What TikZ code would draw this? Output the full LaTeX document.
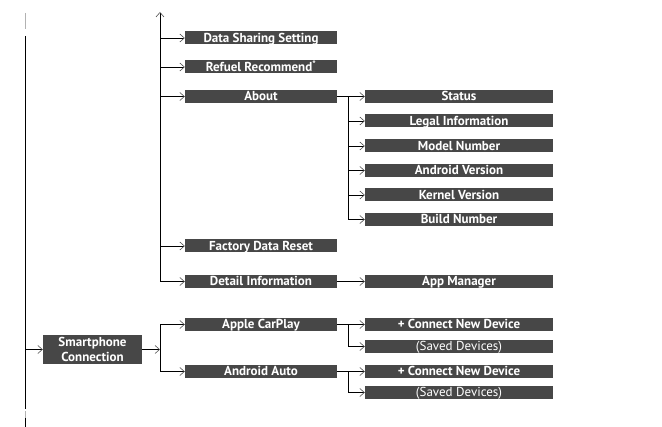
\documentclass[tikz,border=0pt]{standalone}
\usepackage{fontspec}
\setmainfont{PT Sans}
\usetikzlibrary{arrows.meta}
\definecolor{boxgray}{HTML}{474747}
\definecolor{tipgray}{HTML}{505050}

\begin{document}
\begin{tikzpicture}[x=1pt,y=-1pt,
  plain/.style={line width=0.9pt},
  link/.style={plain,-{Straight Barb[length=4.5pt,width=8pt,line width=0.6pt,color=tipgray]}},
  box/.style={fill=boxgray,text=white,inner sep=0pt,minimum height=13pt,
    font=\bfseries\fontsize{13}{15.5}\selectfont},
  menu/.style={box,minimum width=152pt,text height=11pt,text depth=2pt},
  item/.style={box,minimum width=188pt,text height=11pt,text depth=2pt}]
  \useasboundingbox (0,0) rectangle (662,427);

  % -=-=-=-=- LEFT LINE -=-=-=-=-
  \coordinate (lt) at (25,36);
  \coordinate (lb) at (25,409);
  \draw[plain,gray!60] (25,13) -- (25,29);
  \draw[plain] (lt) -- (lb);
  \draw[plain,gray!60] (25,411) -- (25,418);
  \draw[plain] (25,418) -- (25,427);

  % -=-=-=-=- FIRST LEVEL -=-=-=-=-
  \node[menu] (dss) at (261,38) {Data Sharing Setting};
  \node[menu] (refuel) at (261,67) {Refuel Recommend\textsuperscript{*}};
  \node[menu] (about) at (261,96.5) {About};
  \node[menu] (reset) at (261,246) {Factory Data Reset};
  \node[menu] (detail) at (261,281.5) {Detail Information};

  \node[box,minimum width=99pt,minimum height=29pt,align=center] (phone) at (92.5,349.5) {Smartphone\\Connection};
  \node[menu] (carplay) at (261,324.5) {Apple CarPlay};
  \node[menu] (auto) at (261,371.5) {Android Auto};

  % -=-=-=-=- SECOND LEVEL -=-=-=-=-
  \node[item] (status) at (459,96.5) {Status};
  \node[item] (legal) at (459,121) {Legal Information};
  \node[item] (model) at (459,146) {Model Number};
  \node[item] (android) at (459,170.5) {Android Version};
  \node[item] (kernel) at (459,195) {Kernel Version};
  \node[item] (build) at (459,219.5) {Build Number};
  \node[item] (appmgr) at (459,281.5) {App Manager};

  \node[item] (cpnew) at (459,324.5) {+ Connect New Device};
  \node[item,font=\fontsize{13}{15.5}\selectfont] (cpsaved) at (459,346.5) {(Saved Devices)};
  \node[item] (aanew) at (459,371.5) {+ Connect New Device};
  \node[item,font=\fontsize{13}{15.5}\selectfont] (aasaved) at (459,392.5) {(Saved Devices)};

  % -=-=-=-=- CONNECTORS -=-=-=-=-
  \coordinate (ttop) at (160,12);
  \coordinate (tbot) at (160,281.5);
  \draw[link] (tbot) -- (ttop);
  \foreach \n in {dss,refuel,about,reset,detail}
    \draw[link] (\n.west -| ttop) -- (\n.west);

  \coordinate (abus) at (348,96.5);
  \draw[link] (about.east) -- (status.west);
  \draw[plain] (abus) -- (build.west -| abus);
  \foreach \n in {legal,model,android,kernel,build}
    \draw[link] (\n.west -| abus) -- (\n.west);
  \draw[link] (detail.east) -- (appmgr.west);

  \draw[link] (phone.west -| lt) -- (phone.west);
  \coordinate (sbus) at (160,324.5);
  \draw[link] (phone.east) -- (phone.east -| sbus);
  \draw[plain] (sbus) -- (auto.west -| sbus);
  \foreach \n in {carplay,auto}
    \draw[link] (\n.west -| sbus) -- (\n.west);

  \coordinate (cbus) at (348,324.5);
  \draw[link] (carplay.east) -- (cpnew.west);
  \draw[plain] (cbus) -- (cpsaved.west -| cbus);
  \draw[link] (cpsaved.west -| cbus) -- (cpsaved.west);
  \coordinate (dbus) at (348,371.5);
  \draw[link] (auto.east) -- (aanew.west);
  \draw[plain] (dbus) -- (aasaved.west -| dbus);
  \draw[link] (aasaved.west -| dbus) -- (aasaved.west);
\end{tikzpicture}
\end{document}
